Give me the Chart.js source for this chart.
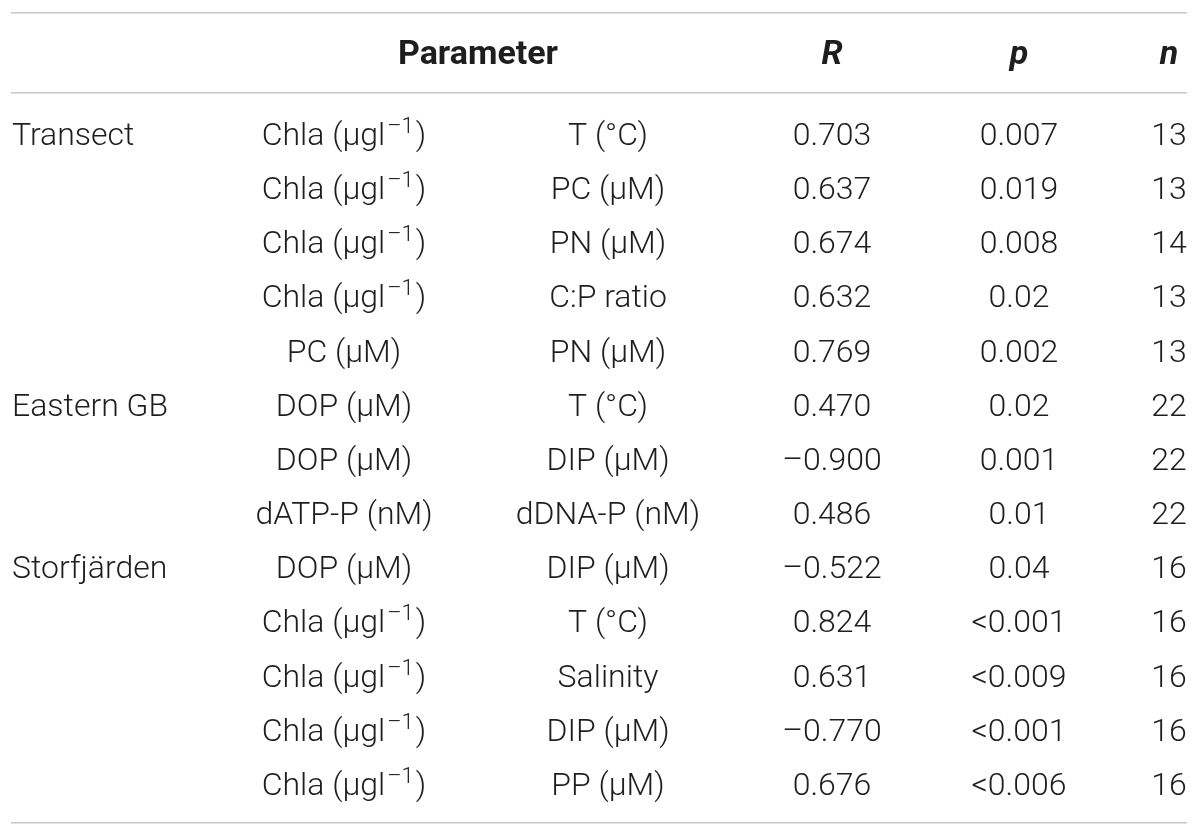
<!DOCTYPE html>
<html><head><meta charset="utf-8">
<script src="https://cdn.jsdelivr.net/npm/chart.js@4.4.1/dist/chart.umd.min.js"></script>
<style>html,body{margin:0;padding:0;background:#fff}#wrap{width:1200px;height:837px;position:relative}</style>
</head><body><div id="wrap"><canvas id="c"></canvas></div>
<script>
// ---- data ----
const groups = ['Transect','','','','','Eastern GB','','','Storfjärden','','','',''];
const parameterA = ['Chla (μgl^{–1})','Chla (μgl^{–1})','Chla (μgl^{–1})','Chla (μgl^{–1})','PC (μM)','DOP (μM)','DOP (μM)','dATP-P (nM)','DOP (μM)','Chla (μgl^{–1})','Chla (μgl^{–1})','Chla (μgl^{–1})','Chla (μgl^{–1})'];
const parameterB = ['T (°C)','PC (μM)','PN (μM)','C:P ratio','PN (μM)','T (°C)','DIP (μM)','dDNA-P (nM)','DIP (μM)','T (°C)','Salinity','DIP (μM)','PP (μM)'];
const rValues = [0.703,0.637,0.674,0.632,0.769,0.470,-0.900,0.486,-0.522,0.824,0.631,-0.770,0.676];
const pValues = ['0.007','0.019','0.008','0.02','0.002','0.02','0.001','0.01','0.04','<0.001','<0.009','<0.001','<0.006'];
const nValues = [13,13,14,13,13,22,22,22,16,16,16,16,16];
const headerLabels = ['Parameter','R','p','n'];

// ---- layout (not data) ----
const colX = {group:12, a:344, b:608, r:832, p:1019, n:1169, header:478};
const headerRow = -1.5;
const ruleRows = [-2.224, -0.738, 12.737];
const TEXT = '#1e1e1e';
const FONT = "Roboto, 'Liberation Sans', sans-serif";
const BODY = '300 32px ' + FONT;
const SUP = '300 22px ' + FONT;
const HEAD = '700 34px ' + FONT;
const HEAD_IT = 'italic 700 34px ' + FONT;

function fmtR(v){ return (v < 0 ? '\u2013' : '') + Math.abs(v).toFixed(3); }

function segments(str){
  const out = []; const re = /\^\{([^}]*)\}/g; let last = 0, m;
  while ((m = re.exec(str))){ if (m.index > last) out.push({t:str.slice(last, m.index), sup:false}); out.push({t:m[1], sup:true}); last = re.lastIndex; }
  if (last < str.length) out.push({t:str.slice(last), sup:false});
  return out;
}
function drawRich(ctx, str, x, yBase, align, font, supFont){
  const segs = segments(str);
  let w = 0;
  segs.forEach(s => { ctx.font = s.sup ? supFont : font; s.w = ctx.measureText(s.t).width + (s.sup ? 4 : 0); w += s.w; });
  let cx = align === 'center' ? x - w/2 : align === 'right' ? x - w : x;
  ctx.textAlign = 'left';
  segs.forEach(s => { ctx.font = s.sup ? supFont : font; ctx.fillText(s.t, cx + (s.sup ? 2 : 0), yBase - (s.sup ? 12 : 0)); cx += s.w; });
}

const tablePlugin = {
  id: 'tableText',
  afterDatasetsDraw(chart){
    const {ctx, scales:{x, y}} = chart;
    ctx.save();
    ctx.fillStyle = TEXT;
    ctx.textBaseline = 'alphabetic';
    const off = 12;
    const hy = y.getPixelForValue(headerRow) + off;
    drawRich(ctx, headerLabels[0], x.getPixelForValue(colX.header), hy, 'center', HEAD, SUP);
    drawRich(ctx, headerLabels[1], x.getPixelForValue(colX.r), hy, 'center', HEAD_IT, SUP);
    drawRich(ctx, headerLabels[2], x.getPixelForValue(colX.p), hy, 'center', HEAD_IT, SUP);
    drawRich(ctx, headerLabels[3], x.getPixelForValue(colX.n), hy, 'center', HEAD_IT, SUP);
    for (let i = 0; i < rValues.length; i++){
      const yb = y.getPixelForValue(i) + off;
      if (groups[i]) drawRich(ctx, groups[i], x.getPixelForValue(colX.group), yb, 'left', BODY, SUP);
      drawRich(ctx, parameterA[i], x.getPixelForValue(colX.a), yb, 'center', BODY, SUP);
      drawRich(ctx, parameterB[i], x.getPixelForValue(colX.b), yb, 'center', BODY, SUP);
      drawRich(ctx, fmtR(rValues[i]), x.getPixelForValue(colX.r), yb, 'center', BODY, SUP);
      drawRich(ctx, pValues[i], x.getPixelForValue(colX.p), yb, 'center', BODY, SUP);
      drawRich(ctx, String(nValues[i]), x.getPixelForValue(colX.n), yb, 'center', BODY, SUP);
    }
    ctx.restore();
  }
};

const cells = [];
rValues.forEach((v, i) => { [colX.a, colX.b, colX.r, colX.p, colX.n].forEach(cx => cells.push({x: cx, y: i})); });

new Chart(document.getElementById('c'), {
  type: 'scatter',
  data: { datasets: [{ data: cells, pointRadius: 0, pointHoverRadius: 0 }] },
  options: {
    responsive: true, maintainAspectRatio: false, animation: false,
    layout: { padding: { left: 11, right: 13, top: 0, bottom: 0 } },
    plugins: { legend: { display: false }, tooltip: { enabled: false } },
    events: [],
    scales: {
      x: { type: 'linear', min: 11, max: 1187, display: false },
      y: {
        type: 'linear', reverse: true, min: -2.455, max: 12.997,
        afterBuildTicks: axis => { axis.ticks = ruleRows.map(v => ({value: v})); },
        ticks: { display: false },
        grid: { color: '#c8c8c8', lineWidth: 1.6, drawTicks: false },
        border: { display: false }
      }
    }
  },
  plugins: [tablePlugin]
});
</script></body></html>
